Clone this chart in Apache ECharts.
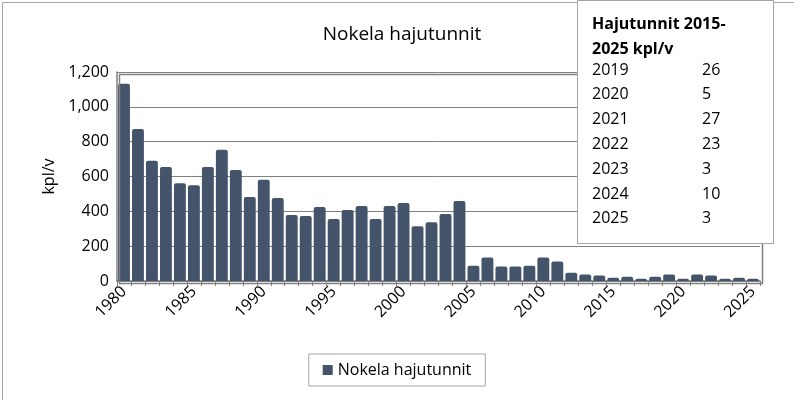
<!DOCTYPE html>
<html><head><meta charset="utf-8">
<script src="https://cdn.jsdelivr.net/npm/echarts@6/dist/echarts.min.js"></script>
<style>html,body{margin:0;padding:0;background:#fff}#c{width:794px;height:400px}</style>
</head><body><div id="c"></div>
<script>
const years = [];
for (let y = 1980; y <= 2025; y++) years.push(String(y));
const values = [1133,873,690,654,561,550,654,754,638,483,581,477,379,373,425,356,408,431,356,431,448,315,338,385,460,
  88,135,83,83,88,135,112,48,37,31,19,25,13,25,37,13,37,31,13,19,13];
const tableYears = ['2019','2020','2021','2022','2023','2024','2025'];
const tableValues = [26,5,27,23,3,10,3];
const font = 'Open Sans';
const chart = echarts.init(document.getElementById('c'));
const tableEls = [
  {type:'rect', left:577, top:0, shape:{width:196, height:243}, style:{fill:'#fff', stroke:'#a6a6a6', lineWidth:1}, z:100},
  {type:'text', left:592, top:12, style:{text:'Hajutunnit 2015-\n2025 kpl/v', font:'bold 16px "Open Sans"', lineHeight:25, fill:'#000'}, z:101}
];
tableYears.forEach((y,i)=>{
  tableEls.push({type:'text', left:592, top:62+i*24.8, style:{text:y, font:'16px "Open Sans"', fill:'#000'}, z:101});
  tableEls.push({type:'text', left:702, top:62+i*24.8, style:{text:String(tableValues[i]), font:'16px "Open Sans"', fill:'#000'}, z:101});
});
chart.setOption({
  animation:false,
  textStyle:{fontFamily:font},
  title:{text:'Nokela hajutunnit', left:397, top:20, textAlign:'center', textStyle:{fontFamily:font, fontSize:19, fontWeight:'normal', color:'#000'}},
  grid:{left:117, right:34, top:72, bottom:119},
  legend:{bottom:14, left:'center', padding:[8,14], borderColor:'#a6a6a6', borderWidth:1, itemWidth:10, itemHeight:10, icon:'rect', textStyle:{fontFamily:font, fontSize:16, color:'#000'}},
  xAxis:{type:'category', data:years, boundaryGap:true,
    axisLine:{lineStyle:{color:'#808080', width:1.5}},
    axisTick:{show:true, interval:0, lineStyle:{color:'#808080'}},
    axisLabel:{interval:(i)=>i%5===0, rotate:45, fontSize:16, color:'#000', fontFamily:font, margin:8}},
  yAxis:{type:'value', min:0, max:1200, interval:200, name:'kpl/v', nameLocation:'middle', nameGap:60, nameRotate:90,
    nameTextStyle:{fontFamily:font, fontSize:16, color:'#000'},
    axisLine:{show:true, lineStyle:{color:'#808080', width:1.5}},
    axisLabel:{fontSize:16, color:'#000', fontFamily:font},
    splitLine:{lineStyle:{color:'#808080'}}},
  series:[{name:'Nokela hajutunnit', type:'bar', data:values, barCategoryGap:'15%', itemStyle:{color:'#44546a', borderRadius:[2,2,0,0]}}],
  graphic:[
    {type:'rect', left:0, top:0, shape:{width:793, height:399}, style:{fill:'none', stroke:'#a6a6a6', lineWidth:1}, z:99},
    {type:'rect', left:117, top:72, shape:{width:643, height:209}, style:{fill:'none', stroke:'#808080', lineWidth:1.5}, z:98},
    ...tableEls
  ]
});
</script></body></html>
